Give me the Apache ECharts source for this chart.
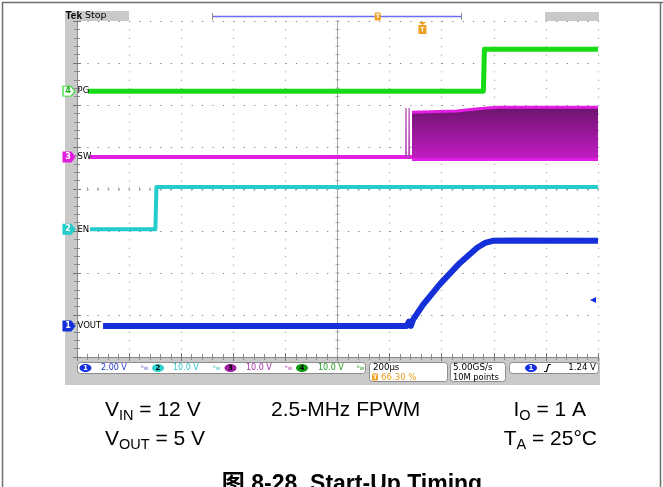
<!DOCTYPE html>
<html>
<head>
<meta charset="utf-8">
<script src="https://cdn.jsdelivr.net/npm/echarts@6/dist/echarts.min.js"></script>
<style>
  html, body { margin: 0; padding: 0; background: #ffffff; }
  #chart { width: 663px; height: 487px; }
</style>
</head>
<body>
<div id="chart"></div>
<script>
// Horizontal timebase: 10 divisions, 200 µs/div, trigger placed at 66.30 % of the screen
const TIME_PER_DIV = 200;
const H_DIVS = 10;
const V_DIVS = 8;
const TRIGGER_PCT = 66.30;
const TRIGGER_LEVEL = 1.24;          // volts, channel 1 rising edge

// Channel settings: volts per division, ground offset (divisions above bottom), colours
const CH1 = { num: '1', name: 'VOUT', vdiv: 2,  offset: 0.74, color: '#1530d8', marker: '#1530d8', markerText: '#ffffff' };
const CH2 = { num: '2', name: 'EN',   vdiv: 10, offset: 3.04, color: '#25cccc', marker: '#25cccc', markerText: '#ffffff' };
const CH3 = { num: '3', name: 'SW',   vdiv: 10, offset: 4.76, color: '#e21ee2', marker: '#e21ee2', markerText: '#ffffff' };
const CH4 = { num: '4', name: 'PG',   vdiv: 10, offset: 6.33, color: '#16dc16', marker: '#ffffff', markerText: '#16b016' };

// Waveforms: time in µs relative to the trigger, value in volts
const voutTime  = [-1226, -60, -52, -44, -36, 2, 68, 144, 210, 240, 270, 348, 674];
const voutVolts = [0, 0, 0.2, 0, 0.3, 1.0, 2.0, 3.0, 3.72, 3.95, 4.05, 4.07, 4.05];

const enTime  = [-1276, -1025, -1021, 674];
const enVolts = [0, 0, 10.1, 10.1];

const pgTime  = [-1284, 234, 238, 674];
const pgVolts = [0, 0, 10.0, 10.0];

// Switch node: low before start-up, then the switching envelope (max / min)
const swLowTime  = [-1276, -40];
const swLowVolts = [0, 0];
const swMaxTime  = [-40, 0, 60, 133, 194, 260, 298, 674];
const swMaxVolts = [10.7, 10.75, 10.85, 10.95, 11.4, 11.75, 11.85, 11.85];
const swMinTime  = [-40, 674];
const swMinVolts = [-0.6, -0.6];
const swSpikeTime  = [-64, -63, -62, -52, -51, -50];
const swSpikeVolts = [0, 11.6, 0, 0, 11.6, 0];

const TRIG_X = TRIGGER_PCT / 100 * H_DIVS * TIME_PER_DIV;
const X_MAX = H_DIVS * TIME_PER_DIV;

function toPoints(times, volts, ch) {
  return times.map((t, i) => [t + TRIG_X, ch.offset + volts[i] / ch.vdiv]);
}

const MARKER_PATH = 'path://M0,0 L8,0 L12,5 L8,10 L0,10 Z';

function groundMarkers(ch) {
  return [
    {
      coord: [0, ch.offset],
      symbol: MARKER_PATH,
      symbolSize: [12, 10],
      symbolOffset: [-8, 0],
      itemStyle: { color: ch.marker, borderColor: ch.color, borderWidth: 1 },
      label: { show: true, position: 'inside', formatter: ch.num, color: ch.markerText,
               fontSize: 8, fontWeight: 'bold', fontFamily: 'DejaVu Sans', offset: [-1, 0] }
    },
    {
      coord: [0, ch.offset],
      symbol: 'rect',
      symbolSize: 1,
      itemStyle: { color: 'rgba(0,0,0,0)' },
      label: { show: true, position: 'right', distance: 0, formatter: ch.name, color: '#000000',
               fontSize: 8.5, fontFamily: 'DejaVu Sans' }
    }
  ];
}

function trace(name, data, ch, width, extra) {
  return Object.assign({
    name: name,
    type: 'line',
    data: data,
    showSymbol: false,
    symbol: 'none',
    animation: false,
    silent: true,
    clip: true,
    lineStyle: { color: ch.color, width: width, join: 'round' },
    itemStyle: { color: ch.color }
  }, extra || {});
}

const frameAxis = {
  type: 'value',
  min: 0,
  axisLabel: { show: false },
  axisLine: { show: true, lineStyle: { color: '#8a8a8a', width: 1 } },
  axisTick: { show: true, inside: true, length: 4, lineStyle: { color: '#777777' } },
  minorTick: { show: true, splitNumber: 5, length: 3, lineStyle: { color: '#8a8a8a' } },
  splitLine: { show: false }
};

const xBottom = Object.assign({}, frameAxis, {
  position: 'bottom', max: X_MAX, interval: TIME_PER_DIV,
  splitLine: { show: true, lineStyle: { color: '#8c8c8c', width: 1, type: [1, 7.4] } }
});
const xTop = Object.assign({}, frameAxis, { position: 'top', max: X_MAX, interval: TIME_PER_DIV });
const yLeft = Object.assign({}, frameAxis, {
  position: 'left', max: V_DIVS, interval: 1,
  splitLine: { show: true, lineStyle: { color: '#7c7c7c', width: 1, type: [1.2, 9.22] } }
});
const yRight = Object.assign({}, frameAxis, { position: 'right', max: V_DIVS, interval: 1 });

// Centre crosshair with minor ticks
const crosshair = {
  type: 'custom',
  silent: true,
  animation: false,
  data: [[0, 0]],
  z: 1,
  renderItem: function (params, api) {
    const children = [];
    const cx = X_MAX / 2, cy = V_DIVS / 2;
    const a = api.coord([cx, 0]), b = api.coord([cx, V_DIVS]);
    const st = { stroke: '#a8a8a8', lineWidth: 1 };
    children.push({ type: 'line', shape: { x1: a[0], y1: a[1], x2: b[0], y2: b[1] }, style: st });
    for (let k = 0; k <= V_DIVS * 5; k++) {
      const p = api.coord([cx, k / 5]);
      children.push({ type: 'line', shape: { x1: p[0] - 2, y1: p[1], x2: p[0] + 2, y2: p[1] }, style: st });
    }
    for (let k = 0; k <= H_DIVS * 5; k++) {
      const p = api.coord([k * TIME_PER_DIV / 5, cy]);
      children.push({ type: 'line', shape: { x1: p[0], y1: p[1] - 2, x2: p[0], y2: p[1] + 2 }, style: st });
    }
    return { type: 'group', children: children };
  }
};

const monoFont = '8px "DejaVu Sans"';
const boxFont = '8.6px "DejaVu Sans"';

function txt(x, y, text, fill, font, align) {
  return { type: 'text', x: x, y: y, z: 5, silent: true,
           style: { text: text, fill: fill, font: font || monoFont, align: align || 'left', verticalAlign: 'middle' } };
}
function box(x, y, w, h) {
  return { type: 'rect', z: 4, silent: true, shape: { x: x, y: y, width: w, height: h, r: 3 },
           style: { fill: '#ffffff', stroke: '#8c8c8c', lineWidth: 1 } };
}
function badge(cx, cy, fill, num, numColor) {
  return [
    { type: 'ellipse', z: 5, silent: true, shape: { cx: cx, cy: cy, rx: 6, ry: 4 }, style: { fill: fill } },
    txt(cx, cy, num, numColor, 'bold 7px "DejaVu Sans"', 'center')
  ];
}
function line(x1, y1, x2, y2, stroke, w, z) {
  return { type: 'line', z: z == null ? 4 : z, silent: true, shape: { x1: x1, y1: y1, x2: x2, y2: y2 },
           style: { stroke: stroke, lineWidth: w || 1 } };
}

const subRich = {
  m: { fontSize: 21, lineHeight: 26, fontFamily: 'Liberation Sans', color: '#000000' },
  s: { fontSize: 14.5, lineHeight: 14, fontFamily: 'Liberation Sans', color: '#000000', verticalAlign: 'bottom' }
};
function caption(x, y, text, align) {
  return { type: 'text', x: x, y: y, z: 5, silent: true,
           style: { text: text, rich: subRich, align: align || 'left', verticalAlign: 'middle' } };
}

const graphic = [
  // page frame
  line(2.5, 2, 2.5, 487, '#6e6e6e', 1.5, 0),
  line(2, 2.5, 663, 2.5, '#6e6e6e', 1.5, 0),
  line(660.5, 2, 660.5, 487, '#6e6e6e', 1.5, 0),
  // scope chrome
  { type: 'rect', z: 0, silent: true, shape: { x: 65, y: 11, width: 12, height: 374 }, style: { fill: '#c9c9c9' } },
  { type: 'rect', z: 0, silent: true, shape: { x: 65, y: 11, width: 64, height: 10 }, style: { fill: '#c9c9c9' } },
  { type: 'rect', z: 0, silent: true, shape: { x: 545, y: 12, width: 54, height: 9 }, style: { fill: '#c9c9c9' } },
  { type: 'rect', z: 0, silent: true, shape: { x: 65, y: 358, width: 535, height: 27 }, style: { fill: '#c9c9c9' } },
  txt(65.5, 16, 'Tek', '#000000', 'bold 10px "Liberation Sans"'),
  txt(85, 16, 'Stop', '#000000', '9.5px "DejaVu Sans"'),
  // record view bar
  line(212, 16.5, 462, 16.5, '#6c6cf4', 1.5),
  line(212.5, 13, 212.5, 20, '#8c8c8c', 1),
  line(461.5, 13, 461.5, 20, '#8c8c8c', 1),
  { type: 'rect', z: 5, silent: true, shape: { x: 212 + 0.663 * 250 - 3, y: 12.5, width: 6, height: 8, r: 1 }, style: { fill: '#f0a020' } },
  txt(212 + 0.663 * 250, 16.7, 'T', '#ffffff', 'bold 6px "DejaVu Sans"', 'center'),
  // readout boxes
  box(77.5, 362.5, 288, 11),
  box(369.5, 362.5, 78, 19),
  box(450.5, 362.5, 55, 19),
  box(509.5, 362.5, 89, 11),
  ...badge(85.5, 368, '#1530e0', '1', '#ffffff'),
  txt(101, 368, '2.00 V', '#2236d0'),
  txt(141, 368, 'ᴮw', '#6a78d8', '6px "DejaVu Sans"'),
  ...badge(158, 368, '#2ed0d0', '2', '#000000'),
  txt(173, 368, '10.0 V', '#30c4c4'),
  txt(213, 368, 'ᴮw', '#50c8c8', '6px "DejaVu Sans"'),
  ...badge(230.5, 368, '#a01ca0', '3', '#000000'),
  txt(246, 368, '10.0 V', '#a52aa5'),
  txt(285, 368, 'ᴮw', '#b060b0', '6px "DejaVu Sans"'),
  ...badge(302, 368, '#129a12', '4', '#000000'),
  txt(318, 368, '10.0 V', '#1a9a1a'),
  txt(357, 368, 'ᴮw', '#40a040', '6px "DejaVu Sans"'),
  txt(373, 367.5, '200µs', '#000000', boxFont),
  { type: 'rect', z: 5, silent: true, shape: { x: 372, y: 373.5, width: 6, height: 7, r: 1 }, style: { fill: '#f0a020' } },
  txt(375, 377.2, 'T', '#ffffff', 'bold 6px "DejaVu Sans"', 'center'),
  txt(381, 377.5, '66.30 %', '#eba020', boxFont),
  txt(453, 367.5, '5.00GS/s', '#000000', '8.8px "DejaVu Sans"'),
  txt(453, 377.5, '10M points', '#000000', '8.3px "DejaVu Sans"'),
  ...badge(531, 368, '#1530e0', '1', '#ffffff'),
  { type: 'polyline', z: 5, silent: true, shape: { points: [[544, 371.5], [546.5, 371.5], [548.5, 364.5], [551, 364.5]] },
    style: { stroke: '#000000', lineWidth: 1.2, fill: null } },
  txt(596, 368, '1.24 V', '#000000', boxFont, 'right'),
  // test conditions
  caption(105, 410, '{m|V}{s|IN}{m| = 12 V}'),
  caption(271, 410, '{m|2.5-MHz FPWM}'),
  caption(586, 410, '{m|I}{s|O}{m| = 1 A}', 'right'),
  caption(105, 439, '{m|V}{s|OUT}{m| = 5 V}'),
  caption(597, 439, '{m|T}{s|A}{m| = 25°C}', 'right'),
  { type: 'text', x: 352, y: 473, z: 5, silent: true,
    style: { text: '图 8-28. Start-Up Timing', fill: '#000000',
             font: 'bold 23px "Liberation Sans", "Noto Sans CJK SC"', align: 'center', verticalAlign: 'top' } }
];

const option = {
  backgroundColor: '#ffffff',
  animation: false,
  grid: { left: 77, top: 21, width: 521, height: 336, containLabel: false },
  xAxis: [xBottom, xTop],
  yAxis: [yLeft, yRight],
  series: [
    crosshair,
    trace('PG', toPoints(pgTime, pgVolts, CH4), CH4, 5, {
      markPoint: { silent: true, animation: false, data: groundMarkers(CH4) }
    }),
    trace('SW', toPoints(swLowTime, swLowVolts, CH3), CH3, 4, {
      markPoint: { silent: true, animation: false, data: groundMarkers(CH3) }
    }),
    trace('SW max', toPoints(swMaxTime, swMaxVolts, CH3), CH3, 3, {
      areaStyle: {
        origin: CH3.offset + swMinVolts[0] / CH3.vdiv,
        opacity: 1,
        color: new echarts.graphic.LinearGradient(0, 0, 0, 1, [
          { offset: 0, color: '#6c146e' },
          { offset: 0.35, color: '#8c168e' },
          { offset: 1, color: '#c41cc4' }
        ])
      }
    }),
    trace('SW min', toPoints(swMinTime, swMinVolts, CH3), CH3, 3),
    trace('SW edge', toPoints(swSpikeTime, swSpikeVolts, CH3), { color: '#b040b0' }, 1.2),
    trace('EN', toPoints(enTime, enVolts, CH2), CH2, 4, {
      markPoint: { silent: true, animation: false, data: groundMarkers(CH2) }
    }),
    trace('VOUT', toPoints(voutTime, voutVolts, CH1), CH1, 6, {
      markPoint: {
        silent: true, animation: false,
        data: groundMarkers(CH1).concat([
          {
            coord: [TRIG_X, V_DIVS],
            symbol: 'path://M0,0 L8,0 L4,3 Z M0,3 L8,3 L8,12 L0,12 Z',
            symbolSize: [8, 12],
            symbolOffset: [0, 7],
            itemStyle: { color: '#f0a020' },
            label: { show: true, position: 'inside', formatter: 'T', color: '#ffffff', fontSize: 7,
                     fontWeight: 'bold', offset: [0, 2] }
          },
          {
            coord: [X_MAX, CH1.offset + TRIGGER_LEVEL / CH1.vdiv],
            symbol: 'path://M0,3 L6,0 L6,6 Z',
            symbolSize: [6, 6],
            symbolOffset: [-5, 0],
            itemStyle: { color: '#1530e0' },
            label: { show: false }
          }
        ])
      }
    })
  ],
  graphic: graphic
};

const chart = echarts.init(document.getElementById('chart'), null, { renderer: 'canvas', width: 663, height: 487 });
chart.setOption(option);
</script>
</body>
</html>
